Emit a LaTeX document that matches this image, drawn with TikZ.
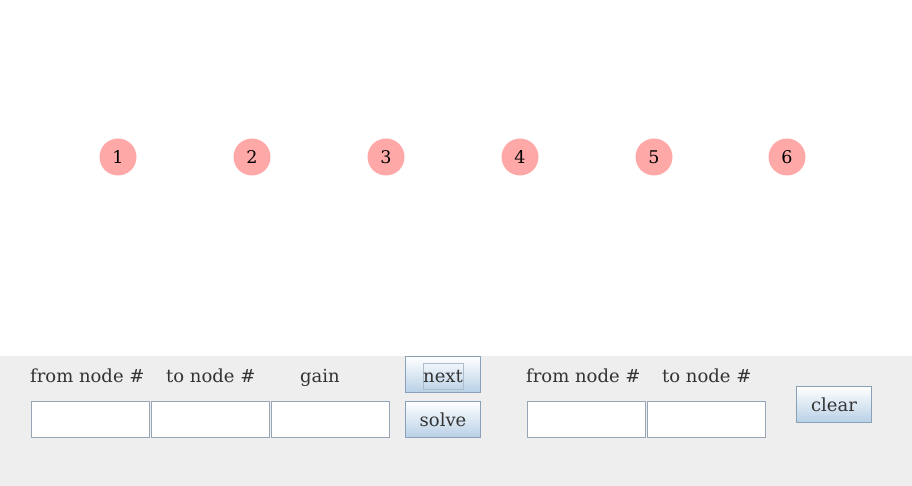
\documentclass[tikz,border=0pt]{standalone}
\usepackage{fontspec}
\setmainfont{DejaVu Serif}
\definecolor{nodepink}{RGB}{255,168,168}
\definecolor{panelgray}{RGB}{238,238,238}
\definecolor{labelgray}{RGB}{51,51,51}
\definecolor{fieldgray}{RGB}{150,166,182}
\definecolor{buttonedge}{RGB}{138,160,182}
\definecolor{buttonfill}{RGB}{184,208,230}
\begin{document}
\begin{tikzpicture}[x=1pt,y=-1pt,
		vertex/.style={circle,fill=nodepink,minimum size=37pt,inner sep=0pt,font=\fontsize{17.5}{20}\selectfont},
		caption/.style={anchor=base west,inner sep=0pt,text=labelgray,font=\fontsize{18}{21}\selectfont},
		field/.style={draw=fieldgray,fill=white,line width=1pt,anchor=north west,minimum width=118pt,minimum height=36pt,inner sep=0pt},
		button/.style={draw=buttonedge,line width=1pt,top color=white,bottom color=buttonfill,anchor=north west,minimum width=75pt,minimum height=36pt,inner sep=0pt,text=labelgray,font=\fontsize{18}{21}\selectfont}]
			\useasboundingbox (0,0) rectangle (912,486);
			% graph area
			\foreach \i/\x in {1/118,2/252,3/386,4/520,5/654,6/787}
				\node[vertex] (v\i) at (\x,157) {\i};
			% control panel
			\fill[panelgray] (0,356) rectangle (912,486);
			\node[caption] (fromA) at (30,382) {from node \#};
			\node[caption] (toA) at (166,382) {to node \#};
			\node[caption] (gain) at (300,382) {gain};
			\node[field] (fromAbox) at (30.5,401) {};
			\node[field] (toAbox) at (150.5,401) {};
			\node[field] (gainbox) at (271,401) {};
			\node[button] (next) at (405,356) {};
			\node[draw=buttonedge!70,line width=0.8pt,minimum width=40pt,minimum height=26pt,inner sep=0pt] (focus) at (443,376) {};
			\node[caption,anchor=base] at (443,382) {next};
			\node[button] (solve) at (405,401) {solve};
			\node[caption] (fromB) at (526,382) {from node \#};
			\node[caption] (toB) at (662,382) {to node \#};
			\node[field] (fromBbox) at (526.5,401) {};
			\node[field] (toBbox) at (646.5,401) {};
			\node[button] (clear) at (796,386) {clear};
		\end{tikzpicture}
\end{document}
